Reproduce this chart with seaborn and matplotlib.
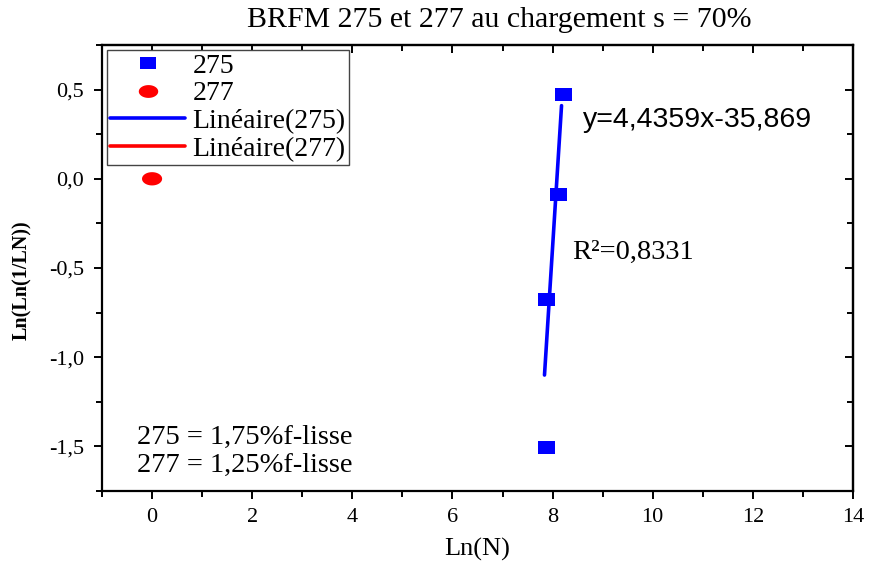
import numpy as np
import pandas as pd
import matplotlib
matplotlib.use("Agg")
import matplotlib.pyplot as plt
from matplotlib.path import Path
from matplotlib.lines import Line2D
import seaborn as sns

# Measured points
x_275 = [7.87, 7.88, 8.11, 8.21]
y_275 = [-1.508, -0.677, -0.088, 0.475]
x_277 = [0.0]
y_277 = [0.0]

# Linear fit of series 275 (as reported on the chart) and its drawn span
slope_275 = 4.4359
intercept_275 = -35.869
fit_y_span = [-1.10, 0.41]

xtick_values = [0, 2, 4, 6, 8, 10, 12, 14]
xtick_labels = ["0", "2", "4", "6", "8", "10", "12", "14"]
ytick_values = [-1.5, -1.0, -0.5, 0.0, 0.5]
ytick_labels = ["-1,5", "-1,0", "-0,5", "0,0", "0,5"]

title = "BRFM 275 et 277 au chargement s = 70%"
equation_text = "y=4,4359x-35,869"
r2_text = "R²=0,8331"
note_lines = ["275 = 1,75%f-lisse", "277 = 1,25%f-lisse"]

sns.set_theme(style="ticks")
plt.rcParams["font.family"] = ["Liberation Serif", "DejaVu Serif"]
plt.rcParams["text.color"] = "black"
plt.rcParams["axes.labelcolor"] = "black"
plt.rcParams["xtick.color"] = "black"
plt.rcParams["ytick.color"] = "black"

BLUE = "#0000FF"
RED = "#FF0000"

# Wide rectangle and ellipse markers
rect_marker = Path([(-1, -0.76), (1, -0.76), (1, 0.76), (-1, 0.76), (-1, -0.76)],
                   [Path.MOVETO, Path.LINETO, Path.LINETO, Path.LINETO, Path.CLOSEPOLY])
theta = np.linspace(0, 2 * np.pi, 60)
ell_marker = Path(np.column_stack([np.cos(theta), 0.66 * np.sin(theta)]))

fig = plt.figure(figsize=(8.69, 5.61), dpi=100)
ax = fig.add_axes([102 / 869, 1 - 491 / 561, 751 / 869, 446 / 561])

df275 = pd.DataFrame({"x": x_275, "y": y_275})
df277 = pd.DataFrame({"x": x_277, "y": y_277})

fit_x = [(yv - intercept_275) / slope_275 for yv in fit_y_span]
fit_y = [slope_275 * xv + intercept_275 for xv in fit_x]
df_fit = pd.DataFrame({"x": fit_x, "y": fit_y})

sns.lineplot(data=df_fit, x="x", y="y", ax=ax, color=BLUE, linewidth=2.6,
             legend=False, zorder=2)
sns.scatterplot(data=df275, x="x", y="y", ax=ax, marker=rect_marker, s=150,
                color=BLUE, edgecolor="none", linewidth=0, legend=False, zorder=3)
sns.scatterplot(data=df277, x="x", y="y", ax=ax, marker=ell_marker, s=210,
                color=RED, edgecolor="none", linewidth=0, legend=False, zorder=3)

ax.set_xlim(-1, 14)
ax.set_ylim(-1.75, 0.75)
ax.set_xticks(xtick_values)
ax.set_xticklabels(xtick_labels)
ax.set_xticks(np.arange(-1, 15, 1), minor=True)
ax.set_yticks(ytick_values)
ax.set_yticklabels(ytick_labels)
ax.set_yticks(np.arange(-1.75, 0.76, 0.25), minor=True)

for side in ["left", "right", "top", "bottom"]:
    ax.spines[side].set_visible(True)
    ax.spines[side].set_linewidth(1.6)
    ax.spines[side].set_color("black")

ax.tick_params(axis="both", which="both", colors="black", labelsize=16, width=1.4)
ax.tick_params(axis="both", which="major", length=6)
ax.tick_params(axis="both", which="minor", length=4)
ax.tick_params(axis="x", which="both", bottom=True, top=False, direction="out", pad=6)
ax.tick_params(axis="y", which="both", left=True, right=False, direction="out", pad=7)

# Mirrored inner ticks on top and right
sec_x = ax.secondary_xaxis("top")
sec_x.set_xticks(xtick_values)
sec_x.set_xticks(np.arange(-1, 15, 1), minor=True)
sec_x.tick_params(which="both", direction="in", labeltop=False, width=1.4, colors="black")
sec_x.tick_params(which="major", length=6)
sec_x.tick_params(which="minor", length=4)
sec_x.spines["top"].set_linewidth(1.6)
sec_y = ax.secondary_yaxis("right")
sec_y.set_yticks(ytick_values)
sec_y.set_yticks(np.arange(-1.75, 0.76, 0.25), minor=True)
sec_y.tick_params(which="both", direction="in", labelright=False, width=1.4, colors="black")
sec_y.tick_params(which="major", length=6)
sec_y.tick_params(which="minor", length=4)
sec_y.spines["right"].set_linewidth(1.6)

ax.set_xlabel("Ln(N)", fontsize=19, color="black")
ax.set_ylabel("Ln(Ln(1/LN))", fontsize=14.5, fontweight="bold", color="black")
ax.xaxis.set_label_coords(0.5, -0.105)
ax.yaxis.set_label_coords(-0.093, 0.473)

fig.text(499 / 869, 1 - 20 / 561, title, ha="center", va="center", fontsize=21.5,
         color="black")

ax.text(0.6405, 0.832, equation_text, transform=ax.transAxes, ha="left", va="center",
        fontsize=20.5, color="black", family=["Liberation Sans", "DejaVu Sans"])
ax.text(0.626, 0.534, r2_text, transform=ax.transAxes, ha="left", va="center",
        fontsize=20.5, color="black")
ax.text(0.0466, 0.121, note_lines[0], transform=ax.transAxes, ha="left", va="center",
        fontsize=20.5, color="black")
ax.text(0.0466, 0.058, note_lines[1], transform=ax.transAxes, ha="left", va="center",
        fontsize=20.5, color="black")

handles = [
    Line2D([], [], linestyle="none", marker=rect_marker, markersize=12, color=BLUE,
           markeredgewidth=0, label="275"),
    Line2D([], [], linestyle="none", marker=ell_marker, markersize=14, color=RED,
           markeredgewidth=0, label="277"),
    Line2D([], [], color=BLUE, linewidth=2.6, label="Linéaire(275)"),
    Line2D([], [], color=RED, linewidth=2.6, label="Linéaire(277)"),
]
leg = ax.legend(handles=handles, loc="upper left", bbox_to_anchor=(0.0067, 0.989),
                borderaxespad=0, fontsize=20, frameon=True, fancybox=False,
                framealpha=1, edgecolor="#444444", handlelength=2.7,
                handletextpad=0.25, borderpad=0.12, labelspacing=0.08)
leg.get_frame().set_linewidth(1.0)
for t in leg.get_texts():
    t.set_color("black")

fig.savefig("out.png", dpi=100)
